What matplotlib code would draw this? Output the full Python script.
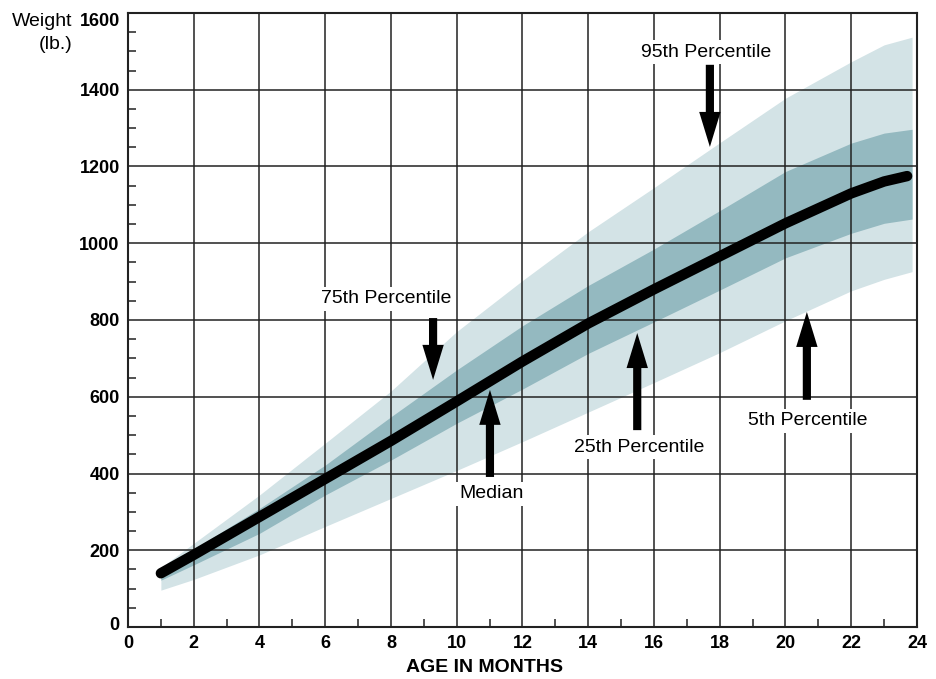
import matplotlib
matplotlib.use("Agg")
import matplotlib.pyplot as plt
from matplotlib.ticker import MultipleLocator
from matplotlib.transforms import ScaledTranslation

# ---- data ----
age = [1, 2, 4, 6, 8, 10, 12, 14, 16, 18, 20, 22, 23, 23.85]
p95 = [155, 218, 344, 479, 615, 770, 903, 1030, 1145, 1262, 1378, 1473, 1517, 1537]
p75 = [145, 203, 309, 422, 548, 670, 785, 890, 985, 1085, 1187, 1261, 1287, 1297]
median_age = [1, 2, 4, 6, 8, 10, 12, 14, 16, 18, 20, 22, 23, 23.7]
median = [140, 188, 287, 386, 485, 588, 692, 791, 880, 966, 1052, 1130, 1161, 1175]
p25 = [122, 162, 244, 344, 435, 531, 620, 713, 795, 878, 962, 1026, 1052, 1063]
p5 = [96, 124, 188, 262, 335, 408, 483, 560, 637, 715, 798, 876, 906, 926]

x_ticks = list(range(0, 25, 2))
y_ticks = list(range(0, 1601, 200))

# annotation labels: (text, text_x, text_y, arrow_x, arrow_from_y, arrow_to_y)
labels = [
    ("95th Percentile", 17.6, 1498, 17.7, 1465, 1251),
    ("75th Percentile", 7.85, 855, 9.28, 805, 644),
    ("Median", 11.07, 347, 11.01, 391, 618),
    ("25th Percentile", 15.54, 469, 15.49, 513, 766),
    ("5th Percentile", 20.68, 537, 20.65, 592, 821),
]

LIGHT = "#d3e3e6"
DARK = "#94b9c0"

plt.rcParams['font.family'] = ['Liberation Sans', 'DejaVu Sans']

fig = plt.figure(figsize=(9.37, 6.79), dpi=100)
ax = fig.add_axes([128/937, 52/679, (917-128)/937, (627-13)/679])

ax.fill_between(age, p5, p95, color=LIGHT, lw=0, zorder=1)
ax.fill_between(age, p25, p75, color=DARK, lw=0, zorder=2)
ax.plot(median_age, median, color="black", lw=7.5, solid_capstyle="round",
        solid_joinstyle="round", zorder=5)

ax.set_xlim(0, 24)
ax.set_ylim(0, 1600)
ax.set_xticks(x_ticks)
ax.set_yticks(y_ticks)
ax.xaxis.set_minor_locator(MultipleLocator(1))
ax.yaxis.set_minor_locator(MultipleLocator(50))
ax.grid(True, which="major", color="#222222", lw=1.1, zorder=3)
ax.set_axisbelow(False)
for sp in ax.spines.values():
    sp.set_linewidth(1.5)
    sp.set_color("#222222")
    sp.set_zorder(6)

ax.tick_params(which="major", length=0, pad=6, labelsize=13)
ax.tick_params(which="minor", direction="in", length=6, width=1.1, color="#222222")
for lab in ax.get_xticklabels() + ax.get_yticklabels():
    lab.set_fontweight("bold")

ylabs = ax.get_yticklabels()
ylabs[-1].set_transform(ylabs[-1].get_transform() + ScaledTranslation(0, -0.07, fig.dpi_scale_trans))
ylabs[0].set_transform(ylabs[0].get_transform() + ScaledTranslation(0, 0.04, fig.dpi_scale_trans))

fig.text(485/937, 1 - 667/679, "AGE IN MONTHS", ha="center", va="center",
         fontsize=14, fontweight="bold")
fig.text(72/937, 1 - 33/679, "Weight\n(lb.)", ha="right", va="center",
         fontsize=14, multialignment="right", linespacing=1.45)

for txt, tx, ty, axx, y0, y1 in labels:
    ax.text(tx, ty, txt, ha="center", va="center", fontsize=14, zorder=8,
            bbox=dict(facecolor="white", edgecolor="none", pad=2.5))
    ax.annotate("", xy=(axx, y1), xytext=(axx, y0), zorder=8,
                arrowprops=dict(arrowstyle="simple,head_width=1.1,head_length=1.8,tail_width=0.42",
                                fc="black", ec="none", mutation_scale=14, shrinkA=0, shrinkB=0))

fig.savefig("out.png", dpi=100)
